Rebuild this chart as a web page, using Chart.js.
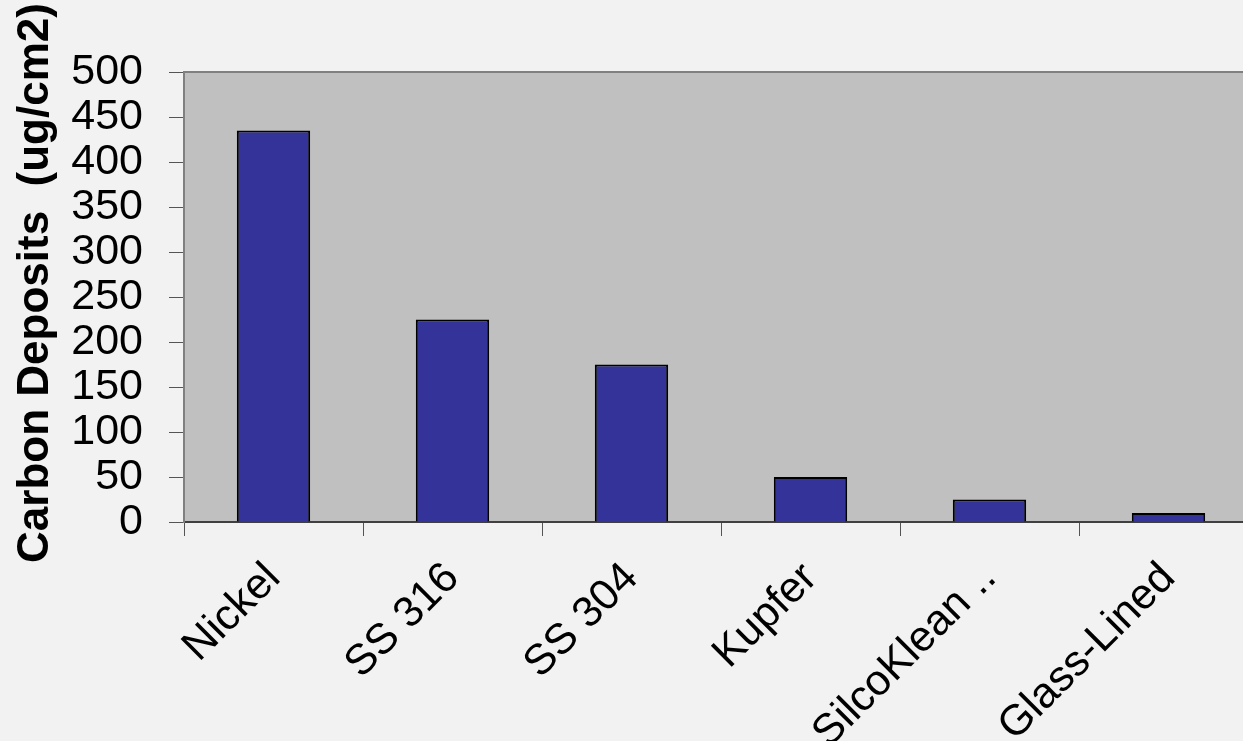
<!DOCTYPE html>
<html>
<head>
<meta charset="utf-8">
<script src="https://cdn.jsdelivr.net/npm/chart.js@4/dist/chart.umd.min.js"></script>
<style>
html,body{margin:0;padding:0;overflow:hidden;background:#F2F2F2;}
#wrap{width:1272px;height:741px;}
</style>
</head>
<body>
<div id="wrap"><canvas id="c" width="1272" height="741"></canvas></div>
<script>
const categories = ["Nickel", "SS 316", "SS 304", "Kupfer", "SilcoKlean ..", "Glass-Lined"];
const carbonDeposits = [435, 225, 175, 50, 25, 10];
const yTitle = "Carbon Deposits  (ug/cm2)";
const yMin = 0, yMax = 500, yStep = 50;

const bgPlugin = {
  id: 'bg',
  beforeDraw(chart) {
    const {ctx, chartArea: a} = chart;
    ctx.save();
    ctx.fillStyle = '#F2F2F2';
    ctx.fillRect(0, 0, chart.width, chart.height);
    ctx.fillStyle = '#C0C0C0';
    ctx.fillRect(a.left, a.top, a.right - a.left, a.bottom - a.top);
    ctx.strokeStyle = '#808080';
    ctx.lineWidth = 2;
    ctx.beginPath();
    ctx.moveTo(a.left, a.top);
    ctx.lineTo(a.right, a.top);
    ctx.lineTo(a.right, a.bottom);
    ctx.stroke();
    ctx.restore();
  },
  afterDraw(chart) {
    const {ctx} = chart;
    ctx.save();
    ctx.fillStyle = '#000';
    ctx.font = 'bold 44px "Liberation Sans", Arial, sans-serif';
    ctx.textAlign = 'center';
    ctx.textBaseline = 'alphabetic';
    ctx.translate(48, 283);
    ctx.rotate(-Math.PI / 2);
    ctx.fillText(yTitle, 0, 0);
    ctx.restore();
  }
};

new Chart(document.getElementById('c'), {
  type: 'bar',
  data: {
    labels: categories,
    datasets: [{
      data: carbonDeposits,
      backgroundColor: '#333399',
      borderColor: '#000000',
      borderWidth: 2,
      barPercentage: 0.41,
      categoryPercentage: 1.0
    }]
  },
  options: {
    responsive: false,
    animation: false,
    devicePixelRatio: 1,
    layout: { padding: { top: 72, right: 14, left: 0, bottom: 0 } },
    plugins: { legend: { display: false }, tooltip: { enabled: false }, title: { display: false } },
    scales: {
      x: {
        afterFit(s) { s.height = 219; },
        grid: { offset: true, drawOnChartArea: false, drawTicks: true, tickLength: 14, color: '#555555', lineWidth: 1 },
        border: { display: true, color: '#404040', width: 2 },
        ticks: {
          autoSkip: false, minRotation: 45, maxRotation: 45, padding: 17,
          color: '#000', font: { family: '"Liberation Sans", Arial, sans-serif', size: 43 }
        }
      },
      y: {
        min: yMin, max: yMax,
        afterFit(s) { s.width = 184; },
        grid: { drawOnChartArea: false, drawTicks: true, tickLength: 15, color: '#555555', lineWidth: 1 },
        border: { display: true, color: '#808080', width: 2 },
        ticks: {
          stepSize: yStep, autoSkip: false, padding: 26, color: '#000',
          font: { family: '"Liberation Sans", Arial, sans-serif', size: 43 }
        }
      }
    }
  },
  plugins: [bgPlugin]
});
</script>
</body>
</html>
